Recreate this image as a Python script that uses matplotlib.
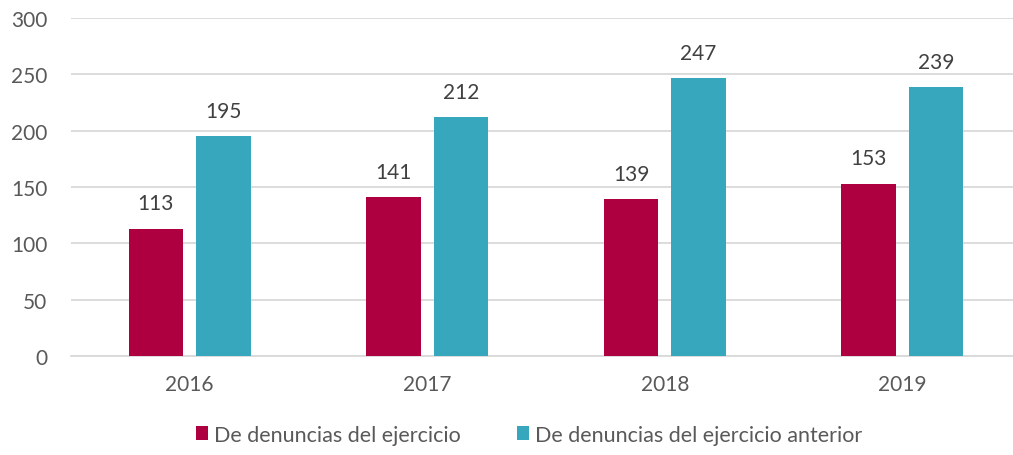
import matplotlib.pyplot as plt
import numpy as np

years = ["2016", "2017", "2018", "2019"]
del_ejercicio = [113, 141, 139, 153]
del_anterior = [195, 212, 247, 239]
series_names = ["De denuncias del ejercicio", "De denuncias del ejercicio anterior"]

RED = "#AE0040"
TEAL = "#37A7BE"

plt.rcParams["font.family"] = ["Lato", "DejaVu Sans"]

fig = plt.figure(figsize=(10.13, 4.56), dpi=100)
# gridlines run off the right edge in the original
ax = fig.add_axes([0.070, 0.217, 0.938, 0.741])

x = np.arange(len(years))
width = 0.23
offset = 0.142

b1 = ax.bar(x - offset, del_ejercicio, width, color=RED, label=series_names[0], zorder=3)
b2 = ax.bar(x + offset, del_anterior, width, color=TEAL, label=series_names[1], zorder=3)

for bars in (b1, b2):
    for bar in bars:
        h = bar.get_height()
        ax.annotate(f"{h:.0f}", (bar.get_x() + bar.get_width() / 2, h),
                    xytext=(0, 11), textcoords="offset points",
                    ha="center", va="bottom", fontsize=15, color="#404040")

ax.set_xlim(-0.5, len(years) - 0.5)
ax.set_ylim(0, 300)
ax.set_yticks(range(0, 301, 50))
ax.set_xticks(x)
ax.set_xticklabels(years)
ax.tick_params(axis="both", length=0, labelsize=15, labelcolor="#595959")
ax.tick_params(axis="y", pad=17)
ax.tick_params(axis="x", pad=13)
ax.grid(axis="y", color="#D9D9D9", linewidth=1.3, zorder=0)
for s in ("top", "right", "left"):
    ax.spines[s].set_visible(False)
ax.spines["bottom"].set_color("#D9D9D9")
ax.spines["bottom"].set_linewidth(1.3)

fig.legend(handles=[b1, b2], loc="lower center", bbox_to_anchor=(0.522, -0.02),
           ncol=2, frameon=False, fontsize=15.5, labelcolor="#595959",
           handlelength=0.6, handleheight=0.6, handletextpad=0.25, columnspacing=2.6)

fig.savefig("out.png", dpi=100)
